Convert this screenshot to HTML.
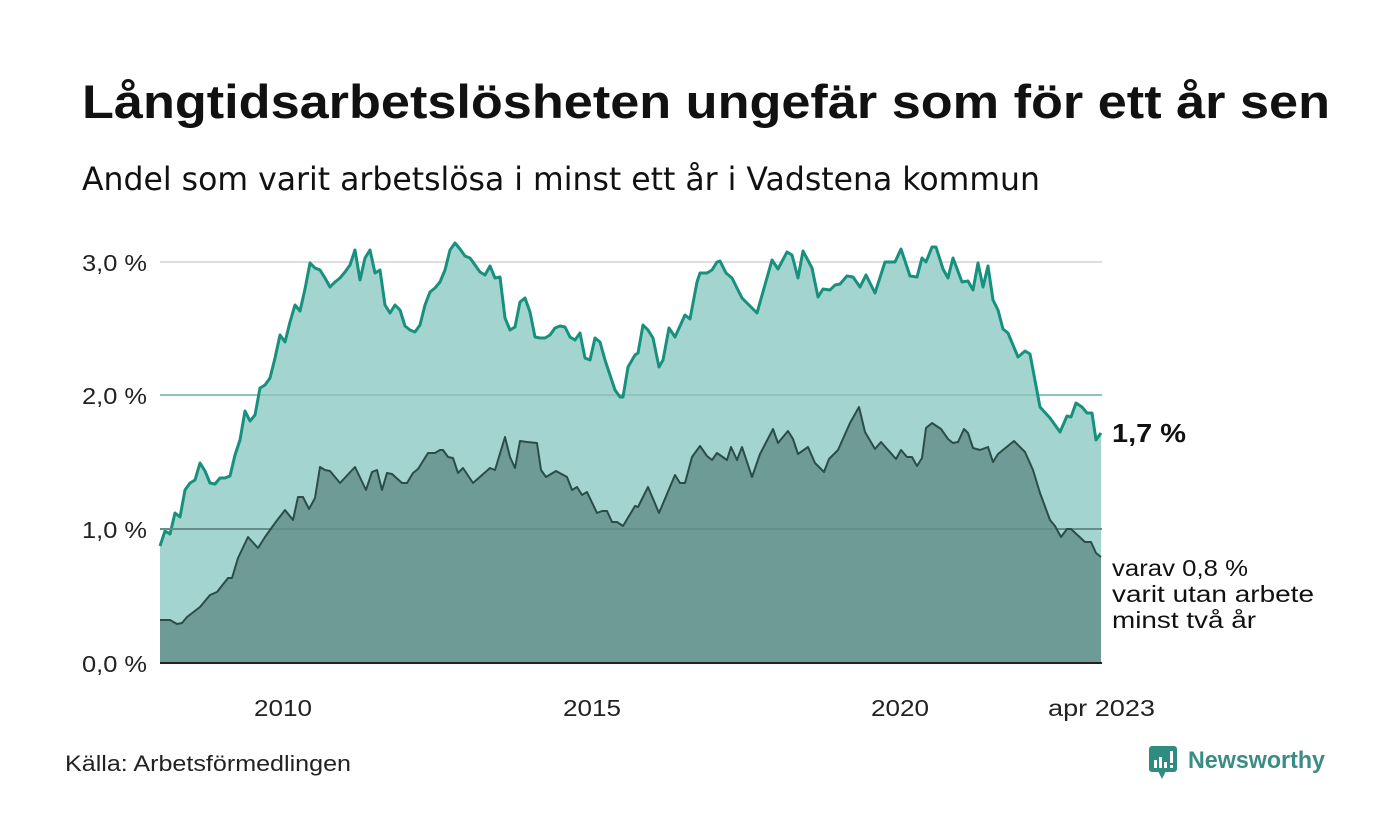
<!DOCTYPE html>
<html><head><meta charset="utf-8"><style>
html,body{margin:0;padding:0;background:#fff;}
svg{display:block;font-family:"Liberation Sans",sans-serif;}
</style></head><body>
<svg width="1400" height="840" viewBox="0 0 1400 840" xmlns="http://www.w3.org/2000/svg">
<rect width="1400" height="840" fill="#fff"/>
<text x="82" y="118" font-size="47" font-weight="bold" fill="#111" textLength="1248" lengthAdjust="spacingAndGlyphs">Långtidsarbetslösheten ungefär som för ett år sen</text>
<text x="82" y="190" font-size="32" fill="#111" font-family="DejaVu Sans, sans-serif" textLength="958" lengthAdjust="spacingAndGlyphs">Andel som varit arbetslösa i minst ett år i Vadstena kommun</text>
<g stroke="#dedede" stroke-width="2">
<line x1="160" y1="262" x2="1102" y2="262"/>
<line x1="160" y1="395" x2="1102" y2="395"/>
<line x1="160" y1="529" x2="1102" y2="529"/>
</g>
<polygon fill="#a3d4cf" points="160,663 160,546 165,531 170,534 175,513 180,517 185,490 190,483 195,480 200,463 205,471 210,483 215,484 220,478 225,478 230,476 235,455 240,440 245,411 250,421 255,415 260,388 265,385 270,378 275,358 280,335 285,342 290,322 295,305 300,311 305,289 310,263 315,268 320,270 325,278 330,287 335,282 340,278 345,272 350,265 355,250 360,280 365,258 370,250 375,273 380,270 385,305 390,313 395,305 400,310 405,326 410,330 415,332 420,325 425,305 430,292 435,288 440,282 445,270 450,250 455,243 460,249 465,256 470,258 475,265 480,272 485,275 490,266 495,278 500,277 505,318 510,330 515,327 520,302 525,298 530,312 535,337 540,338 545,338 550,335 555,328 560,326 565,327 570,337 575,340 580,333 585,358 590,360 595,338 600,342 605,360 610,375 615,390 620,397 623,397 628,367 635,355 638,353 643,325 648,330 653,338 659,367 663,360 669,328 675,337 685,315 690,319 697,282 700,273 707,273 712,270 717,262 720,261 726,273 732,278 742,298 757,313 772,260 778,269 787,252 792,255 798,278 803,251 812,268 818,297 823,289 830,290 835,285 840,284 847,276 853,277 860,287 866,275 875,293 885,262 895,262 901,249 910,276 917,277 922,258 926,262 932,247 936,247 943,269 948,278 953,258 962,282 968,281 973,290 978,263 983,287 988,266 993,300 998,310 1003,329 1008,333 1018,357 1025,351 1030,354 1040,407 1050,418 1060,432 1067,416 1071,417 1076,403 1082,407 1087,413 1092,413 1096,440 1101,433 1101,663"/>
<line x1="160" y1="395" x2="1102" y2="395" stroke="#8fc4be" stroke-width="2"/>
<line x1="160" y1="529" x2="1102" y2="529" stroke="#8fc4be" stroke-width="2"/>
<polyline fill="none" stroke="#17917e" stroke-width="3" stroke-linejoin="round" points="160,546 165,531 170,534 175,513 180,517 185,490 190,483 195,480 200,463 205,471 210,483 215,484 220,478 225,478 230,476 235,455 240,440 245,411 250,421 255,415 260,388 265,385 270,378 275,358 280,335 285,342 290,322 295,305 300,311 305,289 310,263 315,268 320,270 325,278 330,287 335,282 340,278 345,272 350,265 355,250 360,280 365,258 370,250 375,273 380,270 385,305 390,313 395,305 400,310 405,326 410,330 415,332 420,325 425,305 430,292 435,288 440,282 445,270 450,250 455,243 460,249 465,256 470,258 475,265 480,272 485,275 490,266 495,278 500,277 505,318 510,330 515,327 520,302 525,298 530,312 535,337 540,338 545,338 550,335 555,328 560,326 565,327 570,337 575,340 580,333 585,358 590,360 595,338 600,342 605,360 610,375 615,390 620,397 623,397 628,367 635,355 638,353 643,325 648,330 653,338 659,367 663,360 669,328 675,337 685,315 690,319 697,282 700,273 707,273 712,270 717,262 720,261 726,273 732,278 742,298 757,313 772,260 778,269 787,252 792,255 798,278 803,251 812,268 818,297 823,289 830,290 835,285 840,284 847,276 853,277 860,287 866,275 875,293 885,262 895,262 901,249 910,276 917,277 922,258 926,262 932,247 936,247 943,269 948,278 953,258 962,282 968,281 973,290 978,263 983,287 988,266 993,300 998,310 1003,329 1008,333 1018,357 1025,351 1030,354 1040,407 1050,418 1060,432 1067,416 1071,417 1076,403 1082,407 1087,413 1092,413 1096,440 1101,433"/>
<polygon fill="#6f9b96" points="160,663 160,620 170,620 177,624 182,623 187,617 200,607 210,595 217,592 228,578 232,578 238,558 248,537 258,548 265,537 275,523 285,510 293,520 298,497 303,497 309,509 315,498 320,467 325,470 330,471 340,483 355,467 366,490 372,472 377,470 382,490 387,473 392,474 402,483 407,483 413,473 418,469 428,453 435,453 440,450 443,450 448,457 453,458 458,473 463,468 473,483 490,468 495,470 505,437 510,457 515,468 520,441 527,442 537,443 541,470 546,477 556,471 567,477 572,490 577,487 582,495 587,492 597,513 602,511 607,511 612,522 617,522 623,526 635,506 638,507 648,487 659,513 675,475 680,483 685,483 692,457 700,446 707,456 712,460 717,453 727,460 731,447 737,460 742,447 752,477 760,454 773,429 778,443 788,431 793,439 798,454 808,447 815,463 824,472 829,459 838,450 850,423 859,407 865,432 875,449 881,442 896,459 901,450 907,457 912,457 917,466 922,458 926,428 932,423 941,429 948,439 953,443 958,442 964,429 968,433 973,448 980,450 988,447 993,462 998,454 1014,441 1025,452 1033,470 1040,493 1050,520 1055,526 1061,537 1067,529 1071,529 1085,542 1091,542 1096,553 1101,557 1101,663"/>
<line x1="160" y1="529" x2="1102" y2="529" stroke="#658e89" stroke-width="2"/>
<polyline fill="none" stroke="#2b4d48" stroke-width="2" stroke-linejoin="round" points="160,620 170,620 177,624 182,623 187,617 200,607 210,595 217,592 228,578 232,578 238,558 248,537 258,548 265,537 275,523 285,510 293,520 298,497 303,497 309,509 315,498 320,467 325,470 330,471 340,483 355,467 366,490 372,472 377,470 382,490 387,473 392,474 402,483 407,483 413,473 418,469 428,453 435,453 440,450 443,450 448,457 453,458 458,473 463,468 473,483 490,468 495,470 505,437 510,457 515,468 520,441 527,442 537,443 541,470 546,477 556,471 567,477 572,490 577,487 582,495 587,492 597,513 602,511 607,511 612,522 617,522 623,526 635,506 638,507 648,487 659,513 675,475 680,483 685,483 692,457 700,446 707,456 712,460 717,453 727,460 731,447 737,460 742,447 752,477 760,454 773,429 778,443 788,431 793,439 798,454 808,447 815,463 824,472 829,459 838,450 850,423 859,407 865,432 875,449 881,442 896,459 901,450 907,457 912,457 917,466 922,458 926,428 932,423 941,429 948,439 953,443 958,442 964,429 968,433 973,448 980,450 988,447 993,462 998,454 1014,441 1025,452 1033,470 1040,493 1050,520 1055,526 1061,537 1067,529 1071,529 1085,542 1091,542 1096,553 1101,557"/>
<line x1="160" y1="663" x2="1102" y2="663" stroke="#222" stroke-width="2"/>
<g font-size="23" fill="#222">
<text x="82" y="271" textLength="65" lengthAdjust="spacingAndGlyphs">3,0 %</text>
<text x="82" y="404" textLength="65" lengthAdjust="spacingAndGlyphs">2,0 %</text>
<text x="82" y="538" textLength="65" lengthAdjust="spacingAndGlyphs">1,0 %</text>
<text x="82" y="672" textLength="65" lengthAdjust="spacingAndGlyphs">0,0 %</text>
<text x="254" y="716" textLength="58" lengthAdjust="spacingAndGlyphs">2010</text>
<text x="563" y="716" textLength="58" lengthAdjust="spacingAndGlyphs">2015</text>
<text x="871" y="716" textLength="58" lengthAdjust="spacingAndGlyphs">2020</text>
<text x="1048" y="716" textLength="107" lengthAdjust="spacingAndGlyphs">apr 2023</text>
</g>
<text x="1112" y="442" font-size="26" font-weight="bold" fill="#111" textLength="74" lengthAdjust="spacingAndGlyphs">1,7 %</text>
<g font-size="23" fill="#111">
<text x="1112" y="576" textLength="136" lengthAdjust="spacingAndGlyphs">varav 0,8 %</text>
<text x="1112" y="602" textLength="202" lengthAdjust="spacingAndGlyphs">varit utan arbete</text>
<text x="1112" y="628" textLength="144" lengthAdjust="spacingAndGlyphs">minst två år</text>
</g>
<text x="65" y="771" font-size="22" fill="#222" textLength="286" lengthAdjust="spacingAndGlyphs">Källa: Arbetsförmedlingen</text>
<g>
<rect x="1149" y="746" width="28" height="26" rx="3" fill="#2e8c80"/>
<polygon points="1158,771 1166,771 1162,779" fill="#2e8c80"/>
<rect x="1154" y="760" width="3" height="8" fill="#fff"/>
<rect x="1159" y="757" width="3" height="11" fill="#fff"/>
<rect x="1164" y="762" width="3" height="6" fill="#fff"/>
<rect x="1170" y="751" width="3" height="12" fill="#fff"/>
<rect x="1170" y="765" width="3" height="3" fill="#fff"/>
<text x="1188" y="768" font-size="24" font-weight="bold" fill="#3a8c84" textLength="137" lengthAdjust="spacingAndGlyphs">Newsworthy</text>
</g>
</svg>
</body></html>
